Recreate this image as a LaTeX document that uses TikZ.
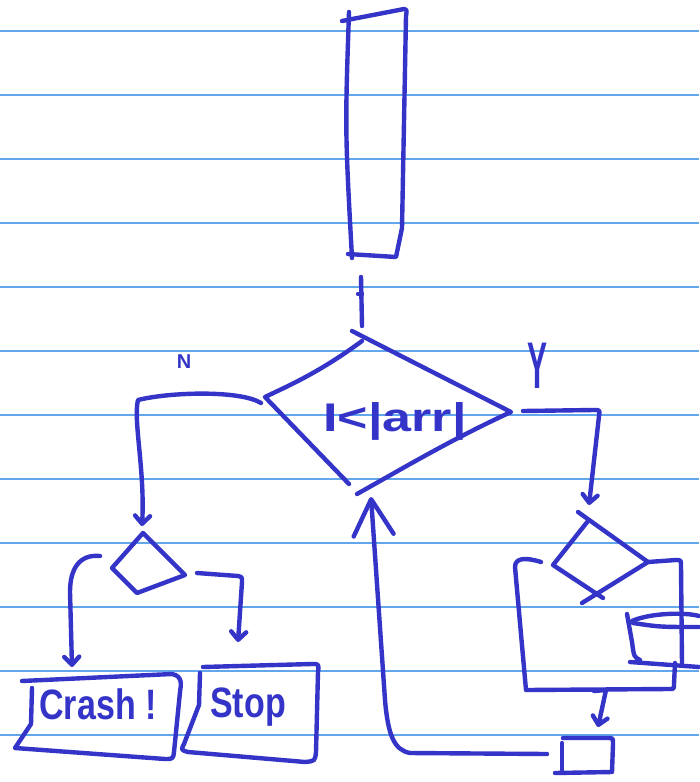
\documentclass[tikz,border=0pt]{standalone}
\usepackage{fontspec}
\newfontfamily\hand{Liberation Sans}
\usetikzlibrary{arrows.meta}
\definecolor{inkc}{HTML}{3434C8}
\definecolor{rulec}{HTML}{62A6EC}
\tikzset{
  ink/.style={draw=inkc, line width=4.4pt, line cap=round, line join=round},
  tip/.style={-{Straight Barb[length=8pt,width=15pt,round]}},
  bigtip/.style={-{Straight Barb[length=36pt,width=40pt,round]}},
  rule/.style={draw=rulec, line width=1.4pt},
  lbl/.style={text=inkc, inner sep=0pt, font=\hand},
}
\begin{document}
\begin{tikzpicture}[x=1pt, y=-1pt]
\useasboundingbox[fill=white] (0,0) rectangle (699,782);

% ruled paper
\foreach \yy in {31,95,...,735} \draw[rule] (0,\yy) -- (699,\yy);

% tall array box
\coordinate (arrTL) at (342,21);
\coordinate (arrTR) at (404,9);
\coordinate (arrBR) at (396,257);
\coordinate (arrBL) at (348,254);
\draw[ink] (arrTL) -- (arrTR) .. controls (407,10) .. (406,16) -- (402,228) -- (arrBR) -- (arrBL);
\draw[ink] (349,12) .. controls (345,130) .. (352,258);

% short link down to the test
\coordinate (linkA) at (361,277);
\coordinate (linkB) at (362,326);
\draw[ink] (linkA) -- (linkB);
\draw[ink] (358,294) -- (362,294);

% main test diamond
\coordinate (dL) at (265,397);
\coordinate (dT) at (362,341);
\coordinate (dT2) at (352,331);
\coordinate (dR) at (511,412);
\coordinate (dB) at (357,494);
\coordinate (dB2) at (349,484);
\draw[ink] (dT) .. controls (320,372) and (290,385) .. (dL) -- (dB2);
\draw[ink] (dT2) -- (dR) .. controls (450,440) and (400,470) .. (dB);
\node[lbl, font=\hand\bfseries\fontsize{40}{40}\selectfont, xscale=1.3] (cond) at (395,421) {I<|arr|};

% branch labels
\node[lbl, font=\hand\bfseries\fontsize{20}{20}\selectfont] (lblN) at (184,362) {N};
\node[lbl, font=\hand\bfseries\fontsize{30}{30}\selectfont, yscale=2.2] (lblY) at (537,366) {Y};

% "no" branch
\coordinate (nA) at (261,403);
\coordinate (nB) at (142,526);
\draw[ink, tip] (nA) .. controls (240,390) and (170,392) .. (138,400)
  .. controls (133,420) and (145,470) .. (nB);

% small left test
\coordinate (sT) at (143,533);
\coordinate (sR) at (185,575);
\coordinate (sB) at (137,593);
\coordinate (sL) at (112,568);
\draw[ink] (sT) -- (sL) -- (sB) -- (sR) -- cycle;

% its two outlets
\coordinate (sLa) at (100,556);
\coordinate (sLb) at (72,667);
\draw[ink, tip] (sLa) .. controls (80,554) and (70,568) .. (70,592) -- (sLb);
\coordinate (sRa) at (197,573);
\coordinate (sRb) at (238,642);
\draw[ink, tip] (sRa) -- (238,576) .. controls (242,577) .. (242,582) -- (sRb);

% Crash box
\draw[ink] (22,681) -- (172,674) .. controls (183,676) and (181,685) .. (180,692)
  -- (174,752) .. controls (173,759) .. (165,759) -- (15,748) -- (31,724) -- (32,688);
\node[lbl, font=\hand\bfseries\fontsize{34}{34}\selectfont, yscale=1.25] (crash) at (98,704) {Crash !};

% Stop box
\draw[ink] (203,667) -- (312,664) .. controls (319,664) .. (318,672) -- (316,752)
  .. controls (315,761) .. (305,762) -- (188,752) .. controls (181,750) .. (184,744)
  -- (199,705) -- (200,673);
\node[lbl, font=\hand\bfseries\fontsize{34}{34}\selectfont, yscale=1.25] (stop) at (248,707) {Stop};

% "yes" branch
\coordinate (yA) at (523,411);
\coordinate (yB) at (589,505);
\draw[ink, tip] (yA) -- (594,410) .. controls (600,410) .. (599,416) -- (yB);

% right test
\coordinate (rT) at (588,521);
\coordinate (rTa) at (578,512);
\coordinate (rR) at (648,562);
\coordinate (rL) at (553,565);
\draw[ink] (rTa) -- (rR) -- (582,603);
\draw[ink] (rT) -- (rL) -- (603,598);

% loop body
\coordinate (lpA) at (541,562);
\draw[ink] (lpA) .. controls (525,557) and (515,558) .. (515,567) -- (526,690)
  -- (669,689) .. controls (674,689) .. (674,684) -- (675,663);
\draw[ink] (rR) -- (676,560) .. controls (681,560) .. (681,566) -- (682,664);

% cup
\draw[ink] (627,614) -- (632,642) .. controls (634,657) .. (640,660);
\draw[ink] (630,662) -- (699,667);
\draw[ink] (632,621) .. controls (650,613) and (685,612) .. (699,616);
\draw[ink] (633,623) .. controls (660,627) .. (699,627);

% exit from the loop
\coordinate (exA) at (594,691);
\coordinate (exB) at (598,727);
\draw[ink, tip] (exA) -- (606,690) -- (exB);

% small box
\coordinate (bxL) at (547,754);
\draw[ink] (563,738) -- (608,738) .. controls (613,738) .. (613,744) -- (612,772) -- (555,773);
\draw[ink] (562,743) -- (562,770);

% back to the test
\draw[ink, bigtip] (bxL) -- (410,753) .. controls (394,750) and (388,735) .. (385,700)
  -- (371,497);
\end{tikzpicture}
\end{document}
